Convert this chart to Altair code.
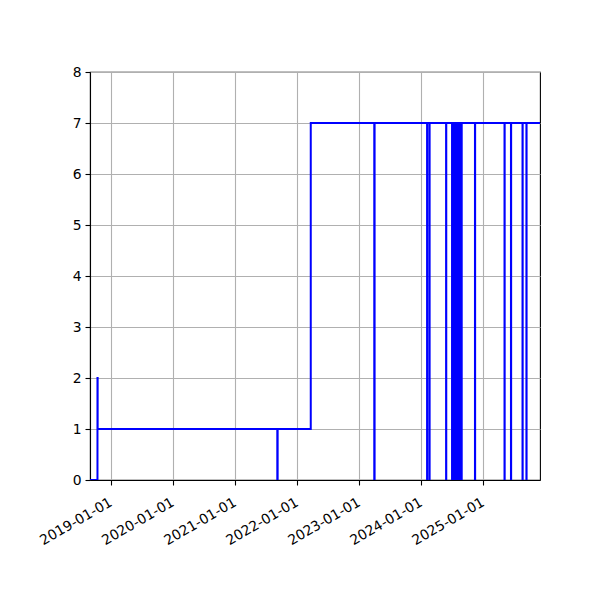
import altair as alt
import pandas as pd

# step series: each value holds until the next date
dates = [
    "2018-08-29", "2018-10-12", "2018-10-13",
    "2021-09-05", "2021-09-07",
    "2022-03-21",
    "2023-03-30", "2023-04-01",
    "2024-02-04", "2024-02-05", "2024-02-18", "2024-02-19",
    "2024-05-26", "2024-05-27",
    "2024-06-30", "2024-07-02", "2024-07-05", "2024-07-07",
    "2024-07-10", "2024-07-12", "2024-07-15", "2024-07-17",
    "2024-07-20", "2024-07-22", "2024-07-25", "2024-07-27",
    "2024-08-03", "2024-08-05", "2024-08-08", "2024-08-10",
    "2024-08-13", "2024-08-15", "2024-08-18", "2024-08-20",
    "2024-08-23", "2024-08-26",
    "2024-11-12", "2024-11-13",
    "2025-05-05", "2025-05-06", "2025-06-12", "2025-06-13",
    "2025-08-19", "2025-08-20", "2025-09-11", "2025-09-12",
    "2025-11-30",
]
values = [
    0, 2, 1,
    0, 1,
    7,
    0, 7,
    0, 7, 0, 7,
    0, 7,
    0, 7, 0, 7,
    0, 7, 0, 7,
    0, 7, 0, 7,
    0, 7, 0, 7,
    0, 7, 0, 7,
    0, 7,
    0, 7,
    0, 7, 0, 7,
    0, 7, 0, 7,
    7,
]
x_domain = ["2018-08-29", "2025-11-30"]
y_ticks = [0, 1, 2, 3, 4, 5, 6, 7, 8]

df = pd.DataFrame({"date": dates, "value": values})

linha = alt.Chart(df).mark_line(
    interpolate="step-after", color="#0000ff", strokeWidth=2, clip=True
).encode(
    x=alt.X(
        "date:T",
        title=None,
        scale=alt.Scale(type="utc", domain=x_domain),
        axis=alt.Axis(
            format="%Y-%m-%d",
            tickCount={"interval": "year", "step": 1},
            labelAngle=-30,
            labelAlign="right",
            labelBaseline="top",
            labelPadding=10,
            labelOffset=-4,
        ),
    ),
    y=alt.Y(
        "value:Q",
        title=None,
        scale=alt.Scale(domain=[0, 8], nice=False),
        axis=alt.Axis(values=y_ticks, labelPadding=4),
    ),
)

chart = linha.properties(
    width=450,
    height=408,
    autosize=alt.AutoSizeParams(type="none"),
    padding={"left": 82, "top": 64, "right": 52, "bottom": 112},
).configure_axis(
    grid=True,
    gridColor="#b0b0b0",
    gridWidth=1.1,
    domainColor="black",
    domainWidth=1.1,
    tickColor="black",
    tickWidth=1.1,
    tickSize=5,
    labelFont="DejaVu Sans",
    labelFontSize=13.9,
    labelColor="black",
    labelOverlap=False,
).configure_view(
    stroke="black",
    strokeWidth=1.1,
)

chart.save("out.html", embed_options={"renderer": "svg", "actions": False})
